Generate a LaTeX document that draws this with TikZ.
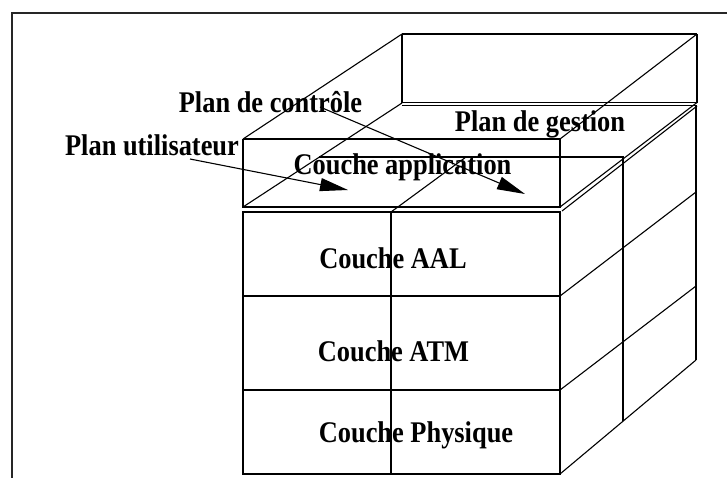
\documentclass[tikz,border=0pt]{standalone}
\usepackage{fontspec}
\usetikzlibrary{arrows.meta}
\newfontfamily\labfont{Liberation Serif}[FakeStretch=0.88]
\begin{document}
\begin{tikzpicture}[x=1pt,y=-1pt,line width=1.1pt,line join=miter,
  lab/.style={font=\labfont\bfseries\fontsize{30}{32}\selectfont,inner sep=0pt,anchor=base},
  heavy/.style={line width=1.8pt},
  frameline/.style={line width=1.9pt,black!85},
  pointer/.style={-{Triangle[length=28pt,width=13pt]},line width=1.1pt}]
\useasboundingbox (0,0) rectangle (727,477);

% outer frame (cut by the picture edge)
\draw[frameline] (12,480) -- (12,13) -- (730,13);

% back face of upper part
\draw (402,103) -- (402,34);
\draw[heavy] (402,34) -- (697,34);
\draw (697,34) -- (697,103);
\draw (402,102.5) -- (697,102.5);
\draw (402,105.5) -- (697,105.5);

% application slab (front face)
\draw[heavy] (243,139) -- (560,139);
\draw (243,139) -- (243,207) -- (560,207) -- (560,139);

% depth edges of the slab
\draw (243,139) -- (402,34);
\draw (560,139) -- (697,34);
\draw (243,207) -- (402,103);
\draw (560,207) -- (697,102.5);
\draw (562,211) -- (697,106);

% mid-depth section
\draw (319,157) -- (623,157) -- (623,421);

% lower block, front face
\draw (243,212) rectangle (560,474);
\draw (243,296) -- (560,296);
\draw (243,390) -- (560,390);
\draw (391,212) -- (391,474);
\draw (391,212) -- (466,157);

% lower block, right face
\draw (560,296) -- (696,192);
\draw (560,390) -- (696,286);
\draw (560,474) -- (696,360);
\draw (696,106) -- (696,360);

% labels
\node[lab] (ctrl) at (270.5,112) {Plan de contrôle};
\node[lab] (user) at (152,155) {Plan utilisateur};
\node[lab] (mgmt) at (540,131) {Plan de gestion};
\node[lab] (app) at (402.5,174) {Couche application};
\node[lab] (aal) at (393,268) {Couche AAL};
\node[lab] (atm) at (393.5,361) {Couche ATM};
\node[lab] (phy) at (416,442) {Couche Physique};

% arrows
\coordinate (ctrlstart) at (320,107);
\coordinate (ctrltip) at (525,194);
\coordinate (userstart) at (190,159);
\coordinate (usertip) at (348,190);
\draw[pointer] (ctrlstart) -- (ctrltip);
\draw[pointer] (userstart) -- (usertip);
\end{tikzpicture}
\end{document}
